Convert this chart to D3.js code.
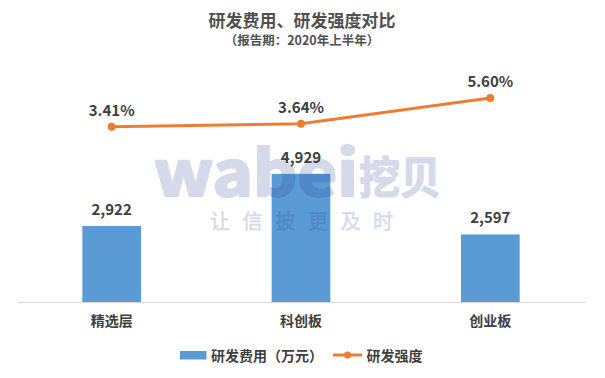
<!DOCTYPE html>
<html><head><meta charset="utf-8">
<script src="https://cdn.jsdelivr.net/npm/d3@7"></script>
<style>
html,body{margin:0;padding:0;background:#fff;}
text{font-family:"Noto Sans CJK SC","Noto Sans",sans-serif;}
</style></head>
<body>
<svg id="chart" width="605" height="378"></svg>
<script>
const categories = ["精选层", "科创板", "创业板"];
const costValues = [2922, 4929, 2597];
const intensityValues = [3.41, 3.64, 5.60];
const costLabels = ["2,922", "4,929", "2,597"];
const intensityLabels = ["3.41%", "3.64%", "5.60%"];
const titleText = "研发费用、研发强度对比";
const subtitleText = "（报告期：2020年上半年）";
const legendLabels = ["研发费用（万元）", "研发强度"];

const svg = d3.select("#chart");
const barColor = "#5B9BD5", lineColor = "#ED7D31", textColor = "#404040";

const x = d3.scaleBand().domain(categories).range([17, 585]).paddingInner(0.69).paddingOuter(0.345);
const y = d3.scaleLinear().domain([0, 5000]).range([302, 172]);
const y2 = d3.scaleLinear().domain([0, 6]).range([172, 92.6]);

// title
svg.append("text").attr("x", 302).attr("y", 27).attr("text-anchor", "middle")
  .attr("font-size", 17).attr("font-weight", "bold").attr("fill", "#505050").text(titleText);
svg.append("text").attr("x", 302).attr("y", 44.5).attr("text-anchor", "middle")
  .attr("font-size", 12.5).attr("font-weight", "bold").attr("fill", "#505050").text(subtitleText);

// bars
svg.append("g").selectAll("rect").data(categories).join("rect")
  .attr("x", d => x(d)).attr("width", x.bandwidth())
  .attr("y", (d, i) => y(costValues[i])).attr("height", (d, i) => y(0) - y(costValues[i]))
  .attr("fill", barColor);

// axis
const xAxis = svg.append("g").attr("transform", `translate(0,${y(0)})`)
  .call(d3.axisBottom(x).tickSize(0).tickPadding(14));
xAxis.select(".domain").attr("stroke", "#d9d9d9").attr("stroke-width", 1.2);
xAxis.selectAll("text").attr("font-size", 14).attr("font-weight", "bold").attr("fill", textColor)
  .attr("font-family", '"Noto Sans CJK SC",sans-serif');

// watermark
const wm = svg.append("g").attr("fill", "#1f3a93").attr("stroke", "#1f3a93").attr("opacity", 0.18).style("pointer-events", "none");
wm.append("text").attr("x", 154).attr("y", 196).attr("font-size", 62).attr("font-weight", "bold")
  .attr("stroke-width", 2.5).attr("stroke-linejoin", "round")
  .attr("font-family", '"DejaVu Sans",sans-serif').attr("textLength", 204).attr("lengthAdjust", "spacingAndGlyphs")
  .text("wabei");
wm.append("text").attr("x", 359).attr("y", 194).attr("font-size", 44).attr("font-weight", "bold")
  .attr("stroke-width", 1.5).attr("stroke-linejoin", "round")
  .attr("textLength", 82).attr("lengthAdjust", "spacingAndGlyphs").text("挖贝");
wm.append("text").attr("x", 210).attr("y", 229).attr("font-size", 20).attr("stroke-width", 0.6)
  .attr("textLength", 183).attr("lengthAdjust", "spacing").text("让信披更及时");

// bar labels
svg.append("g").selectAll("text").data(categories).join("text")
  .attr("x", d => x(d) + x.bandwidth() / 2).attr("y", (d, i) => y(costValues[i]) - 11)
  .attr("text-anchor", "middle").attr("font-size", 15).attr("font-weight", "bold").attr("fill", textColor)
  .text((d, i) => costLabels[i]);

// line
const cx = d => x(d) + x.bandwidth() / 2;
svg.append("path").datum(categories)
  .attr("d", d3.line().x(d => cx(d)).y((d, i) => y2(intensityValues[i])))
  .attr("fill", "none").attr("stroke", lineColor).attr("stroke-width", 3).attr("stroke-linecap", "round");
svg.append("g").selectAll("circle").data(categories).join("circle")
  .attr("cx", d => cx(d)).attr("cy", (d, i) => y2(intensityValues[i])).attr("r", 4).attr("fill", lineColor);
svg.append("g").selectAll("text").data(categories).join("text")
  .attr("x", d => cx(d)).attr("y", (d, i) => y2(intensityValues[i]) - 11)
  .attr("text-anchor", "middle").attr("font-size", 15).attr("font-weight", "bold").attr("fill", textColor)
  .text((d, i) => intensityLabels[i]);

// legend
const lg = svg.append("g");
lg.append("rect").attr("x", 180).attr("y", 351).attr("width", 26.5).attr("height", 8.5).attr("fill", barColor);
lg.append("text").attr("x", 211).attr("y", 360.5).attr("font-size", 14).attr("font-weight", "bold").attr("fill", textColor)
  .text(legendLabels[0]);
lg.append("line").attr("x1", 333).attr("x2", 362).attr("y1", 355).attr("y2", 355)
  .attr("stroke", lineColor).attr("stroke-width", 3);
lg.append("circle").attr("cx", 347.5).attr("cy", 355).attr("r", 3.5).attr("fill", lineColor);
lg.append("text").attr("x", 366.5).attr("y", 360.5).attr("font-size", 14).attr("font-weight", "bold").attr("fill", textColor)
  .text(legendLabels[1]);
</script>
</body></html>
